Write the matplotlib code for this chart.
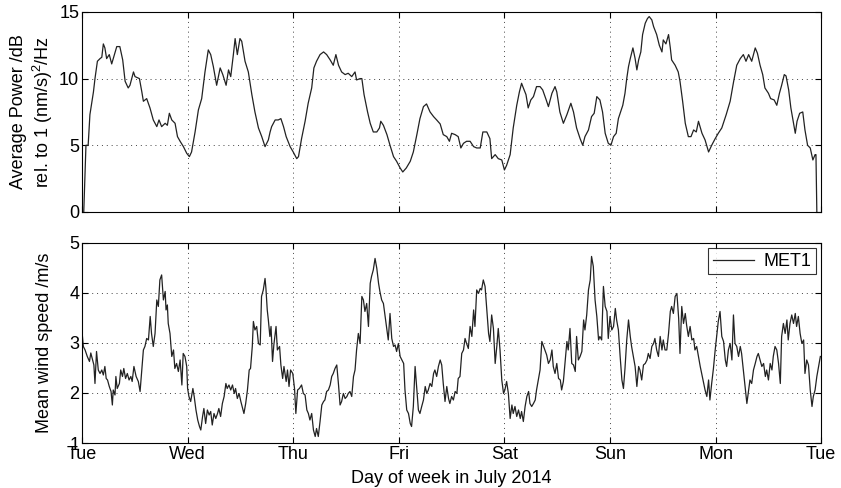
import matplotlib
matplotlib.use('Agg')
import matplotlib.pyplot as plt

# data (time in hours from Tuesday 00:00)
power_hours = [
    0.4, 0.9, 1.4, 1.8, 2.6, 2.95, 3.5, 4.1, 4.5, 4.85, 5.2, 5.6, 6.2, 6.75, 7.1, 7.9, 8.6, 9.25,
    9.8, 10.5, 10.9, 11.7, 12.05, 13.05, 13.6, 13.95, 14.7, 15.45, 16.2, 17.0, 17.5, 18.1, 18.9,
    19.4, 19.85, 20.4, 21.15, 21.7, 22.3, 23.05, 23.8, 24.4, 24.9, 25.7, 26.45, 27.2, 27.95, 28.7,
    29.25, 29.85, 30.6, 31.4, 32.0, 32.75, 33.3, 33.8, 34.4, 34.8, 35.3, 35.9, 36.3, 37.05, 37.8,
    38.6, 39.3, 40.1, 40.85, 41.6, 42.35, 42.75,
    43.1, 43.9, 44.6, 45.2, 45.8, 46.4, 47.3, 48.0, 48.8, 49.2, 49.9, 50.7, 51.4, 52.2, 52.7, 53.3,
    54.1, 54.9, 55.6, 56.4, 57.1, 57.7, 58.3, 59.0, 59.8, 60.5, 61.3, 62.05, 62.4, 63.2, 63.6, 64.1,
    64.9, 65.5, 66.2, 67.0, 67.6, 67.9, 68.5, 69.3, 70.0, 70.8, 71.5, 72.3, 72.9, 73.7, 74.6, 75.3,
    76.1, 76.8, 77.6, 78.3, 79.1, 79.9, 80.6,
    81.4, 82.1, 82.9, 83.5, 84.0, 84.8, 85.5, 86.1, 86.7, 87.4, 88.2, 89.0, 89.7, 90.5, 91.1, 92.0,
    92.7, 93.1, 93.9, 94.6, 95.4, 96.0, 96.5, 97.3, 98.0, 98.8, 99.4, 99.9, 100.3, 100.9, 101.4,
    102.0, 102.6, 103.3, 104.1, 104.7, 105.5, 106.0, 106.8, 107.5, 107.9, 108.6, 109.4, 110.2,
    111.1, 111.7, 112.4, 113.2, 113.8, 114.3, 115.1, 115.8, 116.4, 117.0, 117.7, 118.3, 118.9,
    119.6, 120.2, 120.8, 121.4, 121.9,
    122.3, 122.9, 123.4, 123.8, 124.2, 124.6, 125.2, 125.7, 126.1, 126.5, 127.0, 127.4, 128.0,
    128.5, 128.9, 129.5, 129.9, 130.6, 131.2, 131.8, 132.1, 132.7, 133.3, 133.7, 134.0, 134.8,
    135.5, 135.9, 136.5, 137.1, 137.8, 138.4, 139.0, 139.6, 140.1, 140.9, 141.6, 142.4, 143.1,
    143.9, 144.6, 145.4, 146.4, 147.3, 148.1, 148.8, 149.6, 150.3, 150.9, 151.5, 152.2, 153.0,
    153.5, 154.1, 154.7, 155.2, 156.0, 156.5, 157.3, 157.9, 158.5, 159.0, 159.6, 160.0, 160.6,
    161.1, 161.7, 162.1, 162.5, 163.1, 163.8, 164.3, 164.9, 165.5, 166.1, 166.6, 166.8, 167.0,
]
power_db = [
    0.0, 5.0, 5.0, 7.3, 9.0, 10.0, 11.3, 11.5, 11.6, 12.6, 12.3, 11.5, 11.8, 11.1, 11.5, 12.4, 12.4, 11.4,
    9.8, 9.3, 9.5, 10.5, 10.15, 10.0, 9.0, 8.3, 8.5, 7.8, 6.9, 6.4, 6.9, 6.4, 6.65,
    6.5, 7.4, 6.9, 6.65, 5.65, 5.3, 4.9, 4.4, 4.15, 4.5, 6.0, 7.65, 8.5, 10.5, 12.15,
    11.8, 10.9, 9.5, 10.8, 10.3, 9.5, 10.65, 10.15, 11.8, 13.0, 11.8, 13.0, 12.8, 11.3, 10.5,
    8.8, 7.5, 6.3, 5.65, 4.9, 5.4, 6.0,
    6.4, 6.9, 6.9, 7.0, 6.4, 5.65, 4.9, 4.5, 4.0, 4.15, 5.5, 6.8, 8.15, 9.3, 10.8, 11.3,
    11.8, 12.0, 11.8, 11.4, 11.0, 11.8, 11.0, 10.5, 10.3, 10.4, 10.15, 10.5, 9.9, 10.0, 10.0, 8.8,
    7.5, 6.65, 6.0, 6.0, 6.3, 6.8, 6.5, 5.8, 5.0, 4.15, 3.8, 3.3, 3.0, 3.3, 3.8, 4.5,
    5.8, 7.0, 7.9, 8.1, 7.5, 7.15, 6.9,
    6.6, 5.8, 5.65, 5.3, 5.9, 5.8, 5.65, 4.8, 5.15, 5.3, 5.3, 4.9, 4.8, 4.8, 6.0, 6.0,
    5.5, 4.0, 4.3, 4.0, 3.9, 3.15, 3.5, 4.3, 6.3, 8.0, 9.0, 9.65, 9.3, 8.8, 7.8,
    8.4, 8.65, 9.4, 9.4, 9.15, 8.4, 7.9, 8.9, 9.4, 9.0, 7.5, 6.65, 7.3,
    8.15, 7.5, 6.3, 5.5, 5.0, 5.65, 6.15, 7.15, 7.4, 8.65, 8.4, 7.5, 5.9,
    5.15, 5.0, 5.65, 5.9, 7.0,
    7.4, 8.0, 8.9, 10.0, 10.9, 11.5, 12.3, 11.5, 10.65, 11.4, 12.0, 13.3, 14.15,
    14.5, 14.65, 14.4, 13.9, 13.3, 12.5, 12.0, 12.9, 12.6, 13.3, 12.3, 11.4, 11.0,
    10.5, 9.8, 8.3, 6.65, 5.65, 5.65, 6.15, 6.0, 6.8, 5.9, 5.4, 4.5, 5.0,
    5.5, 5.9, 6.3, 7.3, 8.3, 9.8, 11.0, 11.5, 11.8, 11.3, 11.8, 11.3, 12.3,
    11.9, 11.0, 10.3, 9.3, 8.9, 8.5, 8.4, 8.0, 8.9, 9.5, 10.3, 10.2, 9.15,
    7.8, 6.65, 5.9, 6.8, 7.4, 7.5, 6.15, 5.0, 4.8, 3.9, 4.3, 4.3, 0.0,
]

wind_hours = [
    0.0, 0.3, 0.7, 1.2, 1.7, 2.0, 2.4, 2.7, 2.95, 3.3, 3.7, 4.1, 4.5, 4.85, 5.2, 5.5, 5.8, 6.2,
    6.6, 6.9, 7.1, 7.5, 7.7, 8.0, 8.5, 8.8, 9.2, 9.5, 9.9, 10.3, 10.7, 11.1, 11.4, 11.8, 12.3,
    12.8, 13.2, 13.6, 13.95, 14.3, 14.7, 15.1, 15.5, 15.8, 16.2, 16.6, 17.0, 17.35, 17.7, 18.1,
    18.5, 18.9, 19.1, 19.4, 19.6, 20.0, 20.4, 20.8, 21.1, 21.5, 21.9, 22.3, 22.7, 23.0, 23.4,
    23.8, 24.0, 24.3, 24.7, 25.2, 25.5, 25.9, 26.3, 26.7, 27.0, 27.4, 27.7, 28.1, 28.5, 28.9,
    29.25, 29.6, 30.0, 30.4, 30.8, 31.1, 31.5, 31.9, 32.3, 32.7, 33.0, 33.4, 33.8, 34.2, 34.6,
    34.9, 35.3, 35.7, 36.1, 36.4, 36.8, 37.2, 37.6, 38.0, 38.3, 38.7, 38.95, 39.3, 39.7, 40.1,
    40.5, 40.8, 41.2, 41.6, 41.8, 42.1,
    42.35, 42.7, 42.96, 43.3, 43.6, 44.1, 44.4, 44.9, 45.2, 45.6, 45.9, 46.4, 46.7, 47.05, 47.4,
    47.9, 48.3, 48.6, 49.0, 49.4, 49.9, 50.3, 50.7, 51.1, 51.45, 51.8, 52.2, 52.6, 53.0, 53.3,
    53.7, 54.1, 54.5, 54.9, 55.2, 55.6, 56.0, 56.4, 56.75, 57.1, 57.5, 57.9, 58.3, 58.65, 59.0,
    59.4, 59.8, 60.2, 60.5, 60.9, 61.3, 61.7, 62.05, 62.4, 62.8, 63.2, 63.6, 63.95, 64.3, 64.7,
    65.1, 65.5, 65.8, 66.2, 66.6, 67.0, 67.4, 67.7, 68.1, 68.5, 68.9, 69.3, 69.6, 70.0, 70.4,
    70.8, 71.15, 71.5, 71.9, 72.3, 72.7, 73.1, 73.4, 73.8, 74.2, 74.6, 74.9, 75.3, 75.7, 76.1,
    76.45, 76.8, 77.2, 77.6, 78.0, 78.35, 78.7, 79.1, 79.5, 79.9, 80.2, 80.6, 81.0,
    81.4, 81.75, 82.1, 82.5, 82.9, 83.3, 83.6, 84.0, 84.4, 84.8, 85.2, 85.5, 85.9, 86.3, 86.7,
    87.05, 87.4, 87.8, 88.2, 88.6, 89.0, 89.3, 89.7, 90.1, 90.5, 90.8, 91.2, 91.6, 92.0, 92.4,
    92.7, 93.1, 93.5, 93.9, 94.3, 94.6, 95.0, 95.4, 95.8, 96.1, 96.5, 96.9, 97.3, 97.7, 98.0,
    98.4, 98.8, 99.2, 99.6, 99.9, 100.3, 100.7, 101.1, 101.5, 101.8, 102.2, 102.6, 103.0, 103.3,
    103.7, 104.1, 104.5, 104.9, 105.2, 105.6, 106.0, 106.4, 106.8, 107.1, 107.5, 107.9, 108.3,
    108.7, 109.0, 109.4, 109.8, 110.2, 110.5, 110.9, 111.3, 111.7, 112.1, 112.4, 112.8, 113.2,
    113.6, 114.0, 114.3, 114.7, 115.1, 115.5, 115.8, 116.2, 116.6, 117.0, 117.4, 117.7, 118.1,
    118.5, 118.9, 119.3, 119.6, 120.0, 120.4, 120.8, 121.2, 121.5, 121.9, 122.3,
    122.7, 123.05, 123.4, 123.8, 124.2, 124.6, 124.9, 125.3, 125.7, 126.1, 126.5, 126.8, 127.2,
    127.6, 128.0, 128.4, 128.7, 129.1, 129.5, 129.9, 130.2, 130.6, 131.0, 131.4, 131.8, 132.1,
    132.5, 132.9, 133.3, 133.7, 134.0, 134.4, 134.8, 135.2, 135.6, 135.9, 136.3, 136.7, 137.1,
    137.4, 137.8, 138.2, 138.6, 139.0, 139.3, 139.7, 140.1, 140.5, 140.9, 141.2, 141.6, 142.0,
    142.4, 142.7, 143.1, 143.5, 143.9, 144.3, 144.6, 145.0, 145.4, 145.8, 146.2, 146.5, 146.9,
    147.3, 147.7, 148.05, 148.4, 148.8, 149.2, 149.6, 149.9, 150.3, 150.7, 151.1, 151.5, 151.8,
    152.2, 152.6, 153.0, 153.4, 153.7, 154.1, 154.5, 154.9, 155.3, 155.6, 156.0, 156.4, 156.8,
    157.1, 157.5, 157.9, 158.3, 158.7, 159.0, 159.4, 159.8, 160.2, 160.5, 160.9, 161.3, 161.7,
    162.1, 162.4, 162.8, 163.2, 163.6, 164.0, 164.3, 164.7, 165.1, 165.5, 165.9, 166.2, 166.6,
    167.0, 167.4, 167.8,
]
wind_speed = [
    3.23, 2.93, 2.86, 2.73, 2.63, 2.8, 2.66, 2.56, 2.19, 2.83, 2.46, 2.39, 2.46, 2.36, 2.53, 2.29, 2.26, 2.13,
    2.03, 1.76, 2.06, 1.96, 2.33, 2.09, 2.19, 2.46, 2.33, 2.49, 2.29, 2.39, 2.26, 2.33, 2.23, 2.53, 2.33,
    2.23, 2.03, 2.46, 2.86, 2.93, 3.09, 3.06, 3.53, 3.19, 2.93, 3.19, 3.86, 3.73, 4.26, 4.36,
    3.86, 4.03, 3.66, 3.76, 3.39, 3.19, 2.73, 2.86, 2.49, 2.59, 2.43, 2.66, 2.16, 2.79, 2.73,
    2.53, 2.09, 1.93, 1.83, 2.09, 1.93, 1.66, 1.46, 1.33, 1.26, 1.53, 1.69, 1.39, 1.66, 1.56,
    1.63, 1.36, 1.59, 1.49, 1.59, 1.69, 1.53, 1.79, 1.93, 2.19, 2.09, 2.16, 2.06, 2.16, 1.99,
    2.09, 1.89, 1.99, 1.83, 1.73, 1.59, 1.79, 2.06, 2.46, 2.49, 2.93, 3.43, 3.26, 3.33, 2.99,
    2.96, 3.93, 4.06, 4.29, 4.09, 3.66,
    3.46, 3.13, 3.33, 2.63, 2.96, 3.33, 2.86, 2.93, 2.56, 2.29, 2.53, 2.23, 2.46, 2.13, 2.46,
    2.39, 2.09, 1.59, 2.06, 2.09, 2.16, 1.99, 1.96, 1.66, 1.59, 1.46, 1.59, 1.26, 1.13, 1.29,
    1.13, 1.43, 1.76, 1.83, 1.86, 2.03, 2.06, 2.16, 2.33, 2.39, 2.49, 2.56, 2.16, 1.76, 1.83,
    1.99, 1.89, 1.93, 1.99, 2.03, 1.93, 2.33, 2.46, 2.86, 3.19, 2.99, 3.93, 3.86, 3.63, 3.79,
    3.33, 4.19, 4.33, 4.46, 4.69, 4.49, 4.19, 4.03, 3.86, 3.79, 3.53, 3.26, 3.06, 3.59, 3.09,
    2.93, 2.96, 2.83, 2.99, 2.73, 2.66, 2.59, 2.06, 1.66, 1.59, 1.39, 1.33, 1.73, 2.53, 2.06,
    1.66, 1.59, 1.73, 1.86, 2.13, 1.99, 2.06, 2.19, 2.13, 2.39, 2.46, 2.33, 2.53,
    2.66, 2.56, 2.19, 1.83, 2.13, 1.89, 1.79, 1.93, 1.86, 2.03, 1.99, 2.29, 2.33, 2.79, 2.86,
    3.09, 2.99, 2.89, 3.33, 3.13, 3.66, 3.33, 4.06, 3.99, 4.09, 4.06, 4.26, 4.13, 3.66, 3.19,
    3.03, 3.56, 3.29, 2.59, 2.96, 3.29, 2.86, 2.26, 1.99, 2.06, 2.23, 1.99, 1.49, 1.76, 1.59,
    1.73, 1.53, 1.66, 1.49, 1.63, 1.43, 1.73, 1.93, 2.03, 1.79, 1.73, 1.79, 1.86, 2.06,
    2.26, 2.46, 3.03, 2.93, 2.86, 2.76, 2.59, 2.66, 2.86, 2.53, 2.39, 2.59, 2.29,
    2.26, 2.06, 2.23, 2.63, 3.03, 2.86, 3.29, 2.59, 2.56, 2.43, 3.13, 2.66, 2.73,
    2.83, 3.46, 3.26, 3.56, 4.06, 4.26, 4.73, 4.53, 3.86, 3.53, 3.06, 3.13, 3.06,
    4.13, 3.73, 3.63, 3.09, 3.53, 3.26, 3.33, 3.69, 3.46, 3.26, 2.73,
    2.26, 2.09, 2.49, 3.06, 3.46, 3.13, 2.93, 2.73, 2.53, 2.13, 2.53, 2.46, 2.26,
    2.56, 2.59, 2.66, 2.79, 2.69, 2.93, 2.99, 3.09, 2.86, 2.73, 3.13, 2.86, 3.06,
    2.86, 2.86, 3.19, 3.63, 3.73, 3.59, 3.93, 3.99, 3.49, 2.79, 3.73, 3.39, 3.59,
    3.36, 3.13, 3.33, 3.06, 3.09, 2.86, 2.93, 2.73, 2.53, 2.36, 2.23, 2.06, 1.93,
    2.26, 1.86, 2.19, 2.49, 2.86, 3.19, 3.43, 3.63, 3.13, 3.03, 2.66, 2.53, 2.86,
    2.99, 2.66, 3.56, 2.99, 2.93, 2.73, 2.93, 2.79, 2.46, 2.13, 1.79, 2.06, 2.26,
    2.19, 2.46, 2.59, 2.73, 2.79, 2.66, 2.53, 2.59, 2.33, 2.46, 2.26, 2.59, 2.46,
    2.73, 2.93, 2.86, 2.59, 2.19, 3.13, 3.39, 3.19, 3.46, 3.06, 3.39, 3.56, 3.39,
    3.59, 3.33, 3.53, 3.19, 2.99, 3.06, 2.39, 2.66, 2.56, 2.06, 1.73, 1.93, 2.06,
    2.33, 2.53, 2.73,
]

day_labels = ['Tue', 'Wed', 'Thu', 'Fri', 'Sat', 'Sun', 'Mon', 'Tue']

plt.rcParams['font.family'] = ['Liberation Sans', 'DejaVu Sans']
plt.rcParams['font.size'] = 13
plt.rcParams['mathtext.default'] = 'regular'

fig = plt.figure(figsize=(8.41, 4.88), dpi=100)
ax1 = fig.add_axes([0.0975, 0.5656, 0.879, 0.41])
ax2 = fig.add_axes([0.0975, 0.0922, 0.879, 0.41])

day_ticks = list(range(len(day_labels)))

ax1.plot([h / 24 for h in power_hours], power_db, color='#222222', lw=0.9)
ax1.set_ylim(0, 15)
ax1.set_yticks([0, 5, 10, 15])
ax1.set_ylabel('Average Power /dB\nrel. to 1 (nm/s)$^{2}$/Hz', labelpad=3)
ax1.set_xticklabels([])

ax2.plot([h / 24 for h in wind_hours], wind_speed, color='#222222', lw=0.9, label='MET1')
ax2.set_ylim(1, 5)
ax2.set_yticks([1, 2, 3, 4, 5])
ax2.set_ylabel('Mean wind speed /m/s', labelpad=12)
ax2.set_xlabel('Day of week in July 2014', labelpad=5)
leg = ax2.legend(loc='upper right', fancybox=False, edgecolor='black',
                 borderaxespad=0.3, handlelength=2.3, borderpad=0.25,
                 handletextpad=0.5)
leg.get_frame().set_linewidth(0.8)

for ax in (ax1, ax2):
    ax.set_xlim(0, 7)
    ax.set_xticks(day_ticks)
    ax.grid(True, linestyle=(0, (1, 4)), color='#444444', lw=0.7)
    ax.tick_params(direction='in', top=True, right=True, length=4, pad=2)
    for s in ax.spines.values():
        s.set_linewidth(0.8)
ax2.set_xticklabels(day_labels)

fig.savefig('out.png', dpi=100)
